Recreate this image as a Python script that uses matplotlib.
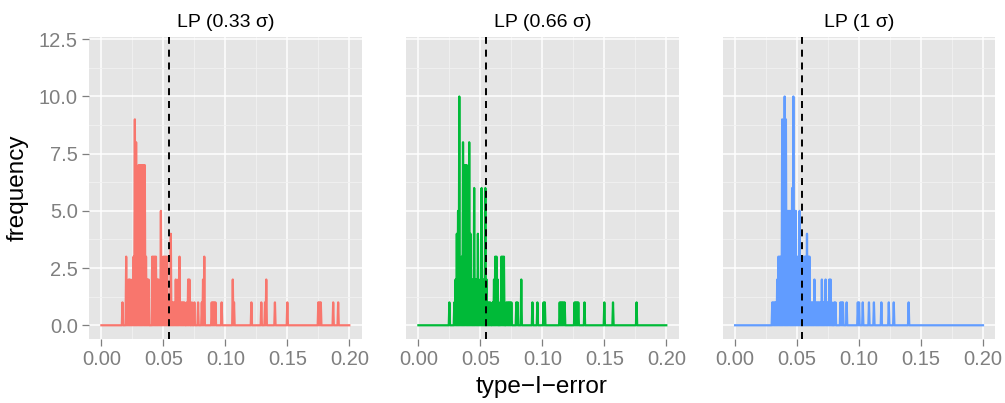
import numpy as np
import matplotlib
matplotlib.use("Agg")
import matplotlib.pyplot as plt

plt.rcParams['font.family'] = ['Liberation Sans', 'DejaVu Sans']

titles = ["LP (0.33 σ)", "LP (0.66 σ)", "LP (1 σ)"]
colors = ["#F8766D", "#00BA38", "#619CFF"]
mean_err = [0.0545, 0.0548, 0.0537]

# type-I-error values (in 1/1000) and how often each occurred
err_033 = [17, 20, 21, 22, 23, 24, 25, 26, 27, 28, 29, 30, 31, 32, 33, 34, 35, 36, 37, 38,
           41, 42, 43, 44, 45, 46, 47, 48, 49, 50, 51, 52, 53, 54, 55, 56, 57, 58, 59, 60,
           61, 62, 63, 64, 65, 66, 67, 69, 70, 71, 73, 75, 78, 81, 82, 83, 89, 90, 91, 92,
           97, 106, 107, 121, 129, 132, 133, 140, 150, 175, 176, 177, 187, 191]
cnt_033 = [1, 3, 1, 2, 2, 1, 2, 3, 9, 8, 4, 7, 7, 7, 7, 7, 7, 3, 2, 2,
           3, 3, 3, 3, 2, 2, 1, 5, 2, 3, 3, 3, 3, 1, 1, 4, 1, 1, 1, 2,
           1, 2, 3, 1, 1, 1, 1, 1, 2, 2, 1, 1, 1, 1, 2, 3, 1, 1, 1, 1,
           1, 2, 1, 1, 1, 1, 2, 1, 1, 1, 1, 1, 1, 1]

err_066 = [25, 29, 30, 31, 32, 33, 34, 35, 36, 37, 38, 39, 40, 41, 42, 43, 44, 45, 46, 47,
           48, 49, 50, 51, 52, 53, 54, 55, 56, 57, 58, 60, 61, 62, 63, 64, 66, 67, 68, 69,
           71, 72, 73, 74, 75, 79, 80, 83, 92, 96, 101, 102, 114, 115, 116, 117, 118, 126, 127, 128,
           129, 134, 150, 157, 176]
cnt_066 = [1, 1, 2, 4, 5, 10, 2, 3, 8, 7, 7, 7, 3, 8, 4, 2, 2, 6, 2, 2,
           4, 1, 2, 6, 2, 2, 6, 2, 1, 1, 1, 1, 2, 3, 3, 2, 1, 3, 3, 3,
           1, 1, 1, 1, 1, 1, 1, 2, 1, 1, 1, 1, 1, 1, 1, 1, 1, 1, 1, 1,
           1, 1, 1, 1, 1]

err_1 = [30, 31, 32, 33, 34, 35, 36, 37, 38, 39, 40, 41, 42, 43, 44, 45, 46, 47, 48, 49,
         50, 51, 52, 53, 54, 55, 56, 57, 58, 59, 60, 61, 62, 63, 64, 65, 66, 67, 68, 69,
         70, 71, 72, 73, 74, 75, 76, 77, 78, 80, 81, 85, 86, 87, 90, 99, 100, 103, 108, 112,
         118, 124, 128, 140]
cnt_1 = [1, 1, 1, 1, 2, 3, 3, 3, 9, 8, 10, 9, 5, 5, 5, 5, 6, 10, 5, 5,
         3, 1, 5, 3, 3, 3, 3, 3, 4, 3, 3, 1, 1, 1, 2, 1, 1, 1, 1, 1,
         2, 1, 1, 2, 1, 1, 2, 2, 1, 1, 1, 1, 1, 1, 1, 1, 1, 1, 1, 1,
         1, 1, 1, 1]

errs = [err_033, err_066, err_1]
counts = [cnt_033, cnt_066, cnt_1]

W, H = 1005, 403
lefts = [89, 406, 722.7]

fig = plt.figure(figsize=(W / 100, H / 100), dpi=100)

for i in range(3):
    ax = fig.add_axes([lefts[i] / W, 64 / H, 272.7 / W, 302 / H])
    ax.set_facecolor("#E5E5E5")

    # frequency polygon on a half-step grid, zero between the observed values
    x = np.arange(401) * 0.0005
    y = np.zeros(401)
    y[2 * np.array(errs[i])] = counts[i]
    ax.plot(x, y, color=colors[i], lw=1.6, zorder=3)
    ax.axvline(mean_err[i], color="black", lw=1.4, linestyle=(0, (3.6, 3)), zorder=4)

    ax.set_xlim(-0.01, 0.21)
    ax.set_ylim(-0.6, 12.6)
    ax.set_xticks([0, 0.05, 0.1, 0.15, 0.2])
    ax.set_xticklabels(["0.00", "0.05", "0.10", "0.15", "0.20"])
    ax.set_xticks([0.025, 0.075, 0.125, 0.175], minor=True)
    ax.set_yticks([0, 2.5, 5, 7.5, 10, 12.5])
    ax.set_yticks([1.25, 3.75, 6.25, 8.75, 11.25], minor=True)
    ax.grid(which="major", color="white", lw=1.1)
    ax.grid(which="minor", color="#F2F2F2", lw=0.6)
    ax.set_axisbelow(True)
    for s in ax.spines.values():
        s.set_visible(False)

    ax.tick_params(which="minor", length=0)
    ax.tick_params(which="major", length=5, width=0.9, color="#7F7F7F",
                   labelcolor="#7F7F7F", labelsize=14.5, pad=3)
    if i == 0:
        ax.set_yticklabels(["0.0", "2.5", "5.0", "7.5", "10.0", "12.5"])
    else:
        ax.tick_params(axis="y", length=0, labelleft=False)

    ax.set_title(titles[i], fontsize=14, pad=7)

fig.text(542 / W, 1 - 387 / H, "type\u2212I\u2212error", fontsize=17.5, ha="center", va="center")
fig.text(18 / W, 1 - 188 / H, "frequency", fontsize=17.5, ha="center", va="center", rotation=90)

fig.savefig("out.png", dpi=100, facecolor="white")
